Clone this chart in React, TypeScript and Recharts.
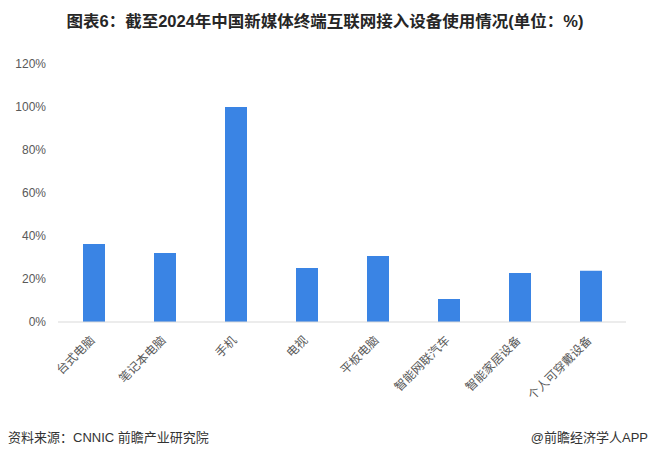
import React from 'react';
import { BarChart, Bar, XAxis, YAxis } from 'recharts';

const categories = ['台式电脑', '笔记本电脑', '手机', '电视', '平板电脑', '智能网联汽车', '智能家居设备', '个人可穿戴设备'];
const usageRates = [36.3, 32.1, 100, 25.1, 30.7, 10.7, 22.8, 23.8];
const yTicks = [0, 20, 40, 60, 80, 100, 120];
const titleText = '图表6：截至2024年中国新媒体终端互联网接入设备使用情况(单位：%)';
const sourceText = '资料来源：CNNIC 前瞻产业研究院';
const brandText = '@前瞻经济学人APP';

const data = categories.map((name, i) => ({ name, value: usageRates[i] }));

const FONT = '"Liberation Sans", "Noto Sans CJK SC", sans-serif';

const XTick = (props: any) => {
  const { x, y, payload } = props;
  const ax = x + 2;
  const ay = y + 19;
  return (
    <text
      x={ax}
      y={ay}
      transform={`rotate(-45, ${ax}, ${ay})`}
      textAnchor="end"
      fill="#595959"
      fontSize={12}
      fontFamily={FONT}
    >
      {payload.value}
    </text>
  );
};

export default function App() {
  return (
    <div style={{ position: 'absolute', left: 0, top: 0, width: 650, height: 456, background: '#fff' }}>
      <BarChart
        width={650}
        height={456}
        data={data}
        margin={{ top: 64, right: 24, bottom: 104, left: 0 }}
      >
        <YAxis
          width={58}
          domain={[0, 120]}
          ticks={yTicks}
          interval={0}
          tickFormatter={(v: number) => `${v}%`}
          axisLine={false}
          tickLine={false}
          tickSize={0}
          tickMargin={12}
          tick={{ fill: '#595959', fontSize: 12, fontFamily: FONT }}
        />
        <XAxis
          dataKey="name"
          interval={0}
          height={30}
          axisLine={{ stroke: '#d9d9d9', strokeWidth: 1 }}
          tickLine={false}
          tickSize={0}
          tickMargin={0}
          tick={<XTick />}
        />
        <Bar dataKey="value" fill="#3a84e4" barSize={22} isAnimationActive={false} />
      </BarChart>
      <svg
        width={650}
        height={456}
        style={{ position: 'absolute', left: 0, top: 0, pointerEvents: 'none' }}
      >
        <text
          x={325}
          y={27}
          textAnchor="middle"
          fontSize={16}
          fontWeight="bold"
          fill="#262626"
          fontFamily={FONT}
          textLength={517}
          lengthAdjust="spacingAndGlyphs"
        >
          {titleText}
        </text>
        <text x={8} y={442} fontSize={13} fill="#333333" fontFamily={FONT}>
          {sourceText}
        </text>
        <text x={648} y={442} textAnchor="end" fontSize={13} fill="#333333" fontFamily={FONT}>
          {brandText}
        </text>
      </svg>
    </div>
  );
}
